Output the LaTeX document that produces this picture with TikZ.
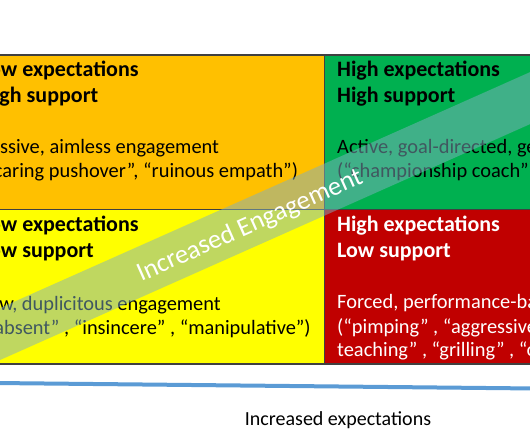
\documentclass[tikz,border=0pt]{standalone}
\usepackage{fontspec}
\setmainfont{Carlito}
\usepackage{tikz}
\usetikzlibrary{positioning,calc}
\definecolor{CellOrange}{HTML}{FFC000}
\definecolor{CellGreen}{HTML}{00B050}
\definecolor{CellYellow}{HTML}{FFFF00}
\definecolor{CellRed}{HTML}{C00000}
\definecolor{GridGray}{HTML}{404040}
\definecolor{BandBlue}{HTML}{80B0C0}
\definecolor{AxisBlue}{HTML}{5B9BD5}

\begin{document}
\begin{tikzpicture}[
    x=1pt,
    y=-1pt,
    headtext/.style={
        anchor=base west,
        inner sep=0pt,
        align=left,
        font=\fontsize{22}{26}\selectfont\bfseries
    },
    bodytext/.style={
        anchor=base west,
        inner sep=0pt,
        align=left,
        font=\fontsize{20.4}{24}\selectfont
    }
]

\useasboundingbox (0,0) rectangle (530,443);
\clip (0,0) rectangle (530,443);

% =========================
% QUADRANT CELLS
% =========================
\fill[CellOrange] (-40,55) rectangle (324,210);
\fill[CellGreen] (324,55) rectangle (560,210);
\fill[CellYellow] (-40,210) rectangle (324,364);
\fill[CellRed] (324,210) rectangle (560,364);

\draw[
    GridGray,
    line width=1.2pt
]
(-40,55) rectangle (560,364);

\draw[
    GridGray,
    line width=1pt
]
(-40,210) -- (560,210)
(324,55) -- (324,364);

% =========================
% LOW EXPECTATIONS / HIGH SUPPORT
% =========================
% (base anchor sits on the last line)
\node[headtext] (lohiHead) at (-20,103)
{Low expectations\\High support};

\node[bodytext] (lohiBody) at (-20,178)
{Passive, aimless engagement\\(“caring pushover”, “ruinous empath”)};

% =========================
% HIGH EXPECTATIONS / HIGH SUPPORT
% =========================
\node[headtext] (hihiHead) at (337,103)
{High expectations\\High support};

\node[bodytext] (hihiBody) at (337,178)
{Active, goal-directed, ge\\(“championship coach”};

% =========================
% LOW EXPECTATIONS / LOW SUPPORT
% =========================
\node[headtext] (loloHead) at (-20,258)
{Low expectations\\Low support};

\node[bodytext] (loloBody) at (-20,335)
{Low, duplicitous engagement\\(“absent” , “insincere” , “manipulative”)};

% =========================
% HIGH EXPECTATIONS / LOW SUPPORT
% =========================
\node[headtext, text=white] (hiloHead) at (337,258)
{High expectations\\Low support};

\node[bodytext, text=white] (hiloBody) at (337,357)
{Forced, performance-ba\\(“pimping” , “aggressive\\teaching” , “grilling” , “o};

% =========================
% ENGAGEMENT BAND
% =========================
\begin{scope}
\clip (-40,55) rectangle (560,364);
\fill[
    BandBlue,
    opacity=0.5
]
(-10,312.5) -- (540,67.7) -- (540,119.7) -- (-10,364.5) -- cycle;
\end{scope}

\node[
    rotate=24,
    text=white,
    font=\fontsize{26.5}{30}\selectfont
]
(bandLabel) at (250,226)
{Increased Engagement};

% =========================
% EXPECTATIONS AXIS
% =========================
\coordinate (axisStart) at (-5,383);
\coordinate (axisEnd) at (535,388.5);

\draw[
    AxisBlue,
    line width=4pt
]
(axisStart) -- (axisEnd);

\node[
    anchor=base,
    font=\fontsize{20}{24}\selectfont
]
(axisLabel) at (338,425)
{Increased expectations};

\end{tikzpicture}
\end{document}
